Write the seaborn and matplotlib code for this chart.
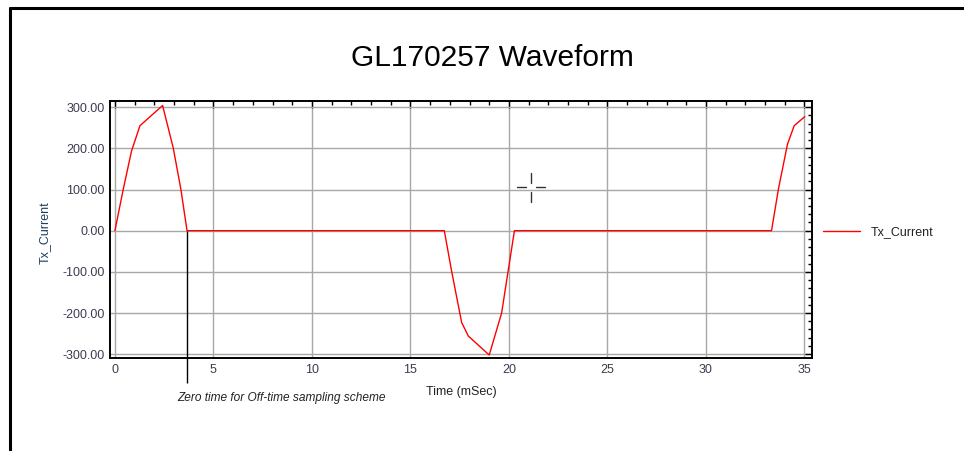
import matplotlib
matplotlib.use('Agg')
import matplotlib.pyplot as plt
from matplotlib.lines import Line2D
from matplotlib.ticker import MultipleLocator, FormatStrFormatter
import seaborn as sns
import pandas as pd

# Waveform values
time_ms = [0.0, 0.42, 0.84, 1.27, 2.42, 2.96, 3.35, 3.66,
           16.72, 17.09, 17.6, 17.94, 19.0, 19.63, 19.96, 20.28,
           33.33, 33.68, 34.14, 34.48, 35.02]
tx_current = [0, 100, 193, 255, 304, 201, 100, 0,
              0, -98, -223, -256, -302, -200, -98, 0,
              0, 101, 210, 255, 277]
zero_time = 3.66
series_name = 'Tx_Current'

df = pd.DataFrame({'Time (mSec)': time_ms, series_name: tx_current})

sns.set_style('white')
plt.rcParams['font.family'] = ['Liberation Sans', 'DejaVu Sans']

W, H = 964, 451
fig = plt.figure(figsize=(W / 100, H / 100), dpi=100)
ax = fig.add_axes([110 / W, 1 - 358.3 / H, 702.3 / W, 257.3 / H])

sns.lineplot(data=df, x='Time (mSec)', y=series_name, color='red', lw=1,
             estimator=None, sort=False, label=series_name, ax=ax)

ax.set_xlim(-0.25, 35.4)
ax.set_ylim(-310, 315)
ax.xaxis.set_major_locator(MultipleLocator(5))
ax.xaxis.set_minor_locator(MultipleLocator(1))
ax.yaxis.set_major_locator(MultipleLocator(100))
ax.yaxis.set_minor_locator(MultipleLocator(20))
ax.yaxis.set_major_formatter(FormatStrFormatter('%.2f'))

ax.grid(True, which='major', color='#a8a8a8', lw=1)
for s in ax.spines.values():
    s.set_color('black')
    s.set_linewidth(1.4)

ax.tick_params(which='both', direction='in', top=True, right=True,
               labelcolor='#3c3c50', labelsize=9, color='black')
ax.tick_params(which='major', length=5, width=1, pad=4)
ax.tick_params(which='minor', length=3, width=1)

ax.set_ylabel(series_name, fontsize=9, color='#1e3f5e')
ax.yaxis.set_label_coords(-0.084, 0.49)
ax.set_xlabel('Time (mSec)', fontsize=9, color='#222222')
ax.xaxis.set_label_coords(0.5, -0.108)

ax.legend(loc='center left', bbox_to_anchor=(1.015, 0.491), frameon=False,
          borderaxespad=0, borderpad=0, handlelength=3.0, handletextpad=0.8,
          fontsize=9, labelcolor='#222222')

# zero-time marker line running below the axis
ax.vlines(zero_time, -370, 0, color='black', lw=1, clip_on=False)
fig.text(177 / W, 1 - 398 / H, 'Zero time for Off-time sampling scheme',
         fontsize=8.6, style='italic', color='#222222', va='center', ha='left')

fig.text(492 / W, 1 - 58 / H, 'GL170257 Waveform', fontsize=21.5,
         color='black', ha='center', va='center')

# window border
fig.add_artist(Line2D([9.5 / W, 1], [1 - 7.5 / H, 1 - 7.5 / H],
                      transform=fig.transFigure, color='black', lw=2.2))
fig.add_artist(Line2D([9.5 / W, 9.5 / W], [0, 1 - 7.5 / H],
                      transform=fig.transFigure, color='black', lw=2.2))

# cursor crosshair
cx, cy = 531, 187
for xs, ys in [([cx, cx], [cy - 14, cy - 4]), ([cx, cx], [cy + 5, cy + 15]),
               ([cx - 14, cx - 5], [cy, cy]), ([cx + 5, cx + 14], [cy, cy])]:
    fig.add_artist(Line2D([x / W for x in xs], [1 - y / H for y in ys],
                          transform=fig.transFigure, color='#333333', lw=1))

fig.savefig('out.png', dpi=100)
